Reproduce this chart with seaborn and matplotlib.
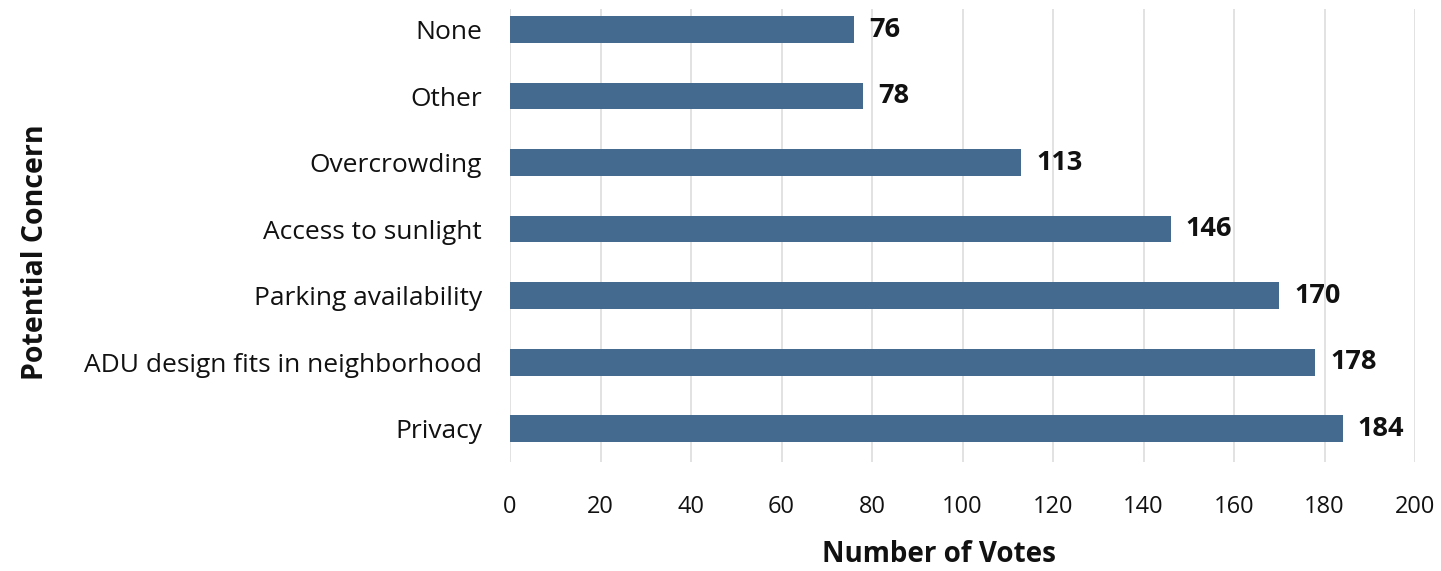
import matplotlib
matplotlib.use("Agg")
import matplotlib.pyplot as plt
import seaborn as sns
import pandas as pd

concerns = ["None", "Other", "Overcrowding", "Access to sunlight",
            "Parking availability", "ADU design fits in neighborhood", "Privacy"]
votes = [76, 78, 113, 146, 170, 178, 184]
x_ticks = [0, 20, 40, 60, 80, 100, 120, 140, 160, 180, 200]

df = pd.DataFrame({"concern": concerns, "votes": votes})

sns.set_theme(style="white")
plt.rcParams["font.family"] = ["Open Sans", "DejaVu Sans"]

W, H = 1441, 571
fig = plt.figure(figsize=(W / 100, H / 100), dpi=100)
ax = fig.add_axes([510 / W, 1 - 462 / H, (1415 - 510) / W, (462 - 9) / H])

sns.barplot(data=df, x="votes", y="concern", orient="h", color="#446A8F",
            saturation=1, width=0.4, linewidth=0, ax=ax, zorder=3)

for i, v in enumerate(votes):
    ax.text(v + 3.3, i, str(v), va="center", ha="left", fontsize=19.5,
            fontweight="bold", color="#111111")

ax.set_xlim(0, 200)
ax.set_ylim(6.5, -0.31)
ax.set_xticks(x_ticks)
ax.set_xticklabels([str(t) for t in x_ticks])
ax.xaxis.grid(True, color="#DDDDDD", linewidth=1.2, zorder=0)
ax.set_axisbelow(True)
for s in ax.spines.values():
    s.set_visible(False)
ax.tick_params(axis="x", length=0, pad=24, labelsize=17, colors="#111111")
ax.tick_params(axis="y", length=0, pad=20, labelsize=19, colors="#111111")
ax.set_xlabel("Number of Votes", fontsize=20, fontweight="bold", color="#111111")
ax.set_ylabel("Potential Concern", fontsize=20.5, fontweight="bold", color="#111111")
ax.xaxis.set_label_coords((939 - 510) / (1415 - 510), -(555 - 462) / (462 - 9))
ax.xaxis.label.set_va("center")
ax.yaxis.set_label_coords(-(510 - 36) / (1415 - 510), (462 - 252) / (462 - 9))
ax.yaxis.label.set_va("center")

fig.savefig("out.png", dpi=100)
